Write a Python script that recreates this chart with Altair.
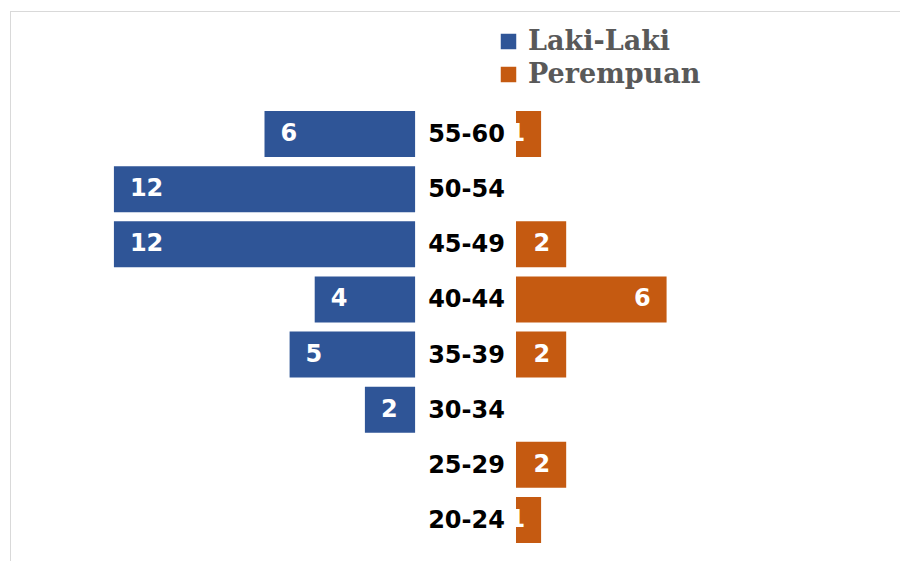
import altair as alt
import pandas as pd

ages = ["55-60", "50-54", "45-49", "40-44", "35-39", "30-34", "25-29", "20-24"]
laki = [6, 12, 12, 4, 5, 2, 0, 0]
perempuan = [1, 0, 2, 6, 2, 0, 2, 1]
series = ["Laki-Laki", "Perempuan"]
colors = ["#2F5597", "#C55A11"]

GAP = 2.01
HALF = 0.417

rows = []
for i, a in enumerate(ages):
    rows.append({"age": a, "idx": i, "sex": series[0], "value": laki[i], "side": -1})
    rows.append({"age": a, "idx": i, "sex": series[1], "value": perempuan[i], "side": 1})
df = pd.DataFrame(rows)
cat_df = pd.DataFrame({"age": ages, "idx": list(range(len(ages)))})

xscale = alt.Scale(domain=[-18.23, 17.31], nice=False, zero=False)
yscale = alt.Scale(domain=[-2.285, 7.744], nice=False, zero=False, reverse=True)

base = alt.Chart(df).transform_filter("datum.value > 0").transform_calculate(
    xa=f"datum.side * {GAP}",
    xb=f"datum.side * ({GAP} + datum.value)",
    ya=f"datum.idx - {HALF}",
    yb=f"datum.idx + {HALF}",
)

bars = base.mark_rect().encode(
    x=alt.X("xa:Q", scale=xscale, axis=None),
    x2="xb:Q",
    y=alt.Y("ya:Q", scale=yscale, axis=None),
    y2="yb:Q",
    color=alt.Color(
        "sex:N",
        scale=alt.Scale(domain=series, range=colors),
        legend=alt.Legend(
            title=None,
            orient="none",
            legendX=487,
            legendY=20,
            padding=0,
            symbolType="square",
            symbolSize=240,
            symbolStrokeWidth=0,
            labelFont="DejaVu Serif",
            labelFontWeight="bold",
            labelFontSize=27,
            labelColor="#595959",
            labelOffset=6,
            rowPadding=5,
            labelLimit=400,
        ),
    ),
)

left_lbl = base.transform_filter("datum.side < 0").mark_text(
    align="left", baseline="middle", dx=16, color="white",
    font="DejaVu Sans", fontWeight="bold", fontSize=24,
).encode(
    x=alt.X("xb:Q", scale=xscale),
    y=alt.Y("idx:Q", scale=yscale),
    text="value:Q",
)

right_lbl = base.transform_filter("datum.side > 0").mark_text(
    align="right", baseline="middle", dx=-16, color="white",
    font="DejaVu Sans", fontWeight="bold", fontSize=24,
).encode(
    x=alt.X("xb:Q", scale=xscale),
    y=alt.Y("idx:Q", scale=yscale),
    text="value:Q",
)

cats = alt.Chart(cat_df).mark_text(
    align="center", baseline="middle", color="black", dy=1,
    font="DejaVu Sans", fontWeight="bold", fontSize=24,
).encode(
    x=alt.value(466.5 - 8),
    y=alt.Y("idx:Q", scale=yscale),
    text="age:N",
)

border = alt.Chart(cat_df).mark_rect(fill=None, stroke="#D9D9D9", strokeWidth=1).encode(
    x=alt.value(2.5), x2=alt.value(1200), y=alt.value(3.5), y2=alt.value(1200)
)

chart = alt.layer(border, bars, left_lbl, right_lbl, cats).properties(
    width=892, height=553,
    autosize=alt.AutoSizeParams(type="none"),
    padding=0,
).configure_view(stroke=None)

chart.save("out.html", embed_options={"renderer": "svg", "actions": False})
